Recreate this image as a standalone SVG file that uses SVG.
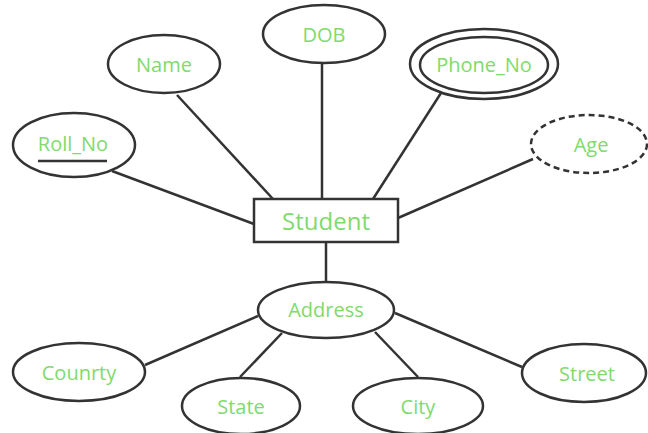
<svg xmlns="http://www.w3.org/2000/svg" width="648" height="433" viewBox="0 0 648 433">
<style>
.s{fill:#fff;stroke:#333;stroke-width:2.5}
.c line{stroke:#333;stroke-width:2.5}
text{font-family:"Open Sans","DejaVu Sans",sans-serif;font-size:20px;fill:#80da6c;text-anchor:middle;dominant-baseline:central}
</style>
<rect width="648" height="433" fill="#fff"/>
<g class="c" id="connectors">
<line x1="112" y1="171" x2="254" y2="224"/>
<line x1="177" y1="95" x2="273" y2="199"/>
<line x1="322" y1="63" x2="322" y2="199"/>
<line x1="441" y1="93" x2="373" y2="199"/>
<line x1="533" y1="159" x2="398" y2="218"/>
<line x1="326" y1="242" x2="326" y2="282"/>
<line x1="258" y1="316" x2="145" y2="365"/>
<line x1="282" y1="333" x2="240" y2="377"/>
<line x1="375" y1="332" x2="418" y2="377"/>
<line x1="395" y1="313" x2="522" y2="367"/>
</g>
<g id="student"><rect class="s" x="254" y="199" width="144" height="43"/><text x="326" y="220" style="font-size:24px">Student</text></g>
<g id="name"><ellipse class="s" cx="164" cy="64" rx="56" ry="29"/><text x="164" y="64">Name</text></g>
<g id="dob"><ellipse class="s" cx="324" cy="34" rx="61" ry="29"/><text x="324" y="34">DOB</text></g>
<g id="roll_no"><ellipse class="s" cx="74" cy="145" rx="61" ry="32"/><text x="73" y="143">Roll_No</text><line x1="38" y1="161" x2="107" y2="161" stroke="#333" stroke-width="2.5"/></g>
<g id="phone_no"><ellipse class="s" cx="484" cy="64" rx="74" ry="35"/><ellipse class="s" cx="484" cy="65" rx="64" ry="28"/><text x="484" y="64">Phone_No</text></g>
<g id="age"><ellipse class="s" cx="589" cy="144" rx="58" ry="29" stroke-dasharray="6,4"/><text x="591" y="144">Age</text></g>
<g id="address"><ellipse class="s" cx="326" cy="310" rx="68" ry="28"/><text x="326" y="309">Address</text></g>
<g id="country"><ellipse class="s" cx="79" cy="372" rx="66" ry="29"/><text x="79" y="372">Counrty</text></g>
<g id="state"><ellipse class="s" cx="241" cy="406" rx="59" ry="28"/><text x="241" y="406">State</text></g>
<g id="city"><ellipse class="s" cx="418" cy="406" rx="65" ry="28"/><text x="418" y="406">City</text></g>
<g id="street"><ellipse class="s" cx="584" cy="373" rx="62" ry="29"/><text x="587" y="373">Street</text></g>
</svg>
